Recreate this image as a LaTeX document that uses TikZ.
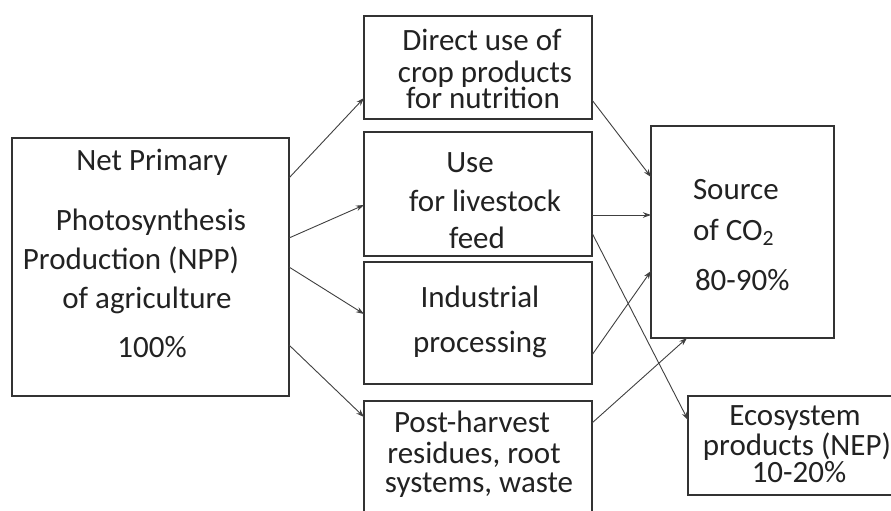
\documentclass[tikz,border=0pt]{standalone}
\usepackage{fontspec}
\setmainfont{Carlito}
\usetikzlibrary{arrows.meta}
\definecolor{boxc}{HTML}{333333}
\definecolor{arrc}{HTML}{404040}
\definecolor{txtc}{HTML}{222222}
\begin{document}
\begin{tikzpicture}[x=1pt,y=-1pt,
  box/.style={draw=boxc, line width=1.4pt, inner sep=0pt, outer sep=0pt},
  txt/.style={anchor=base, inner sep=0pt, outer sep=0pt, text=txtc, font=\fontsize{31}{31}\selectfont},
  txtl/.style={txt, anchor=base west},
  conn/.style={draw=arrc, line width=0.9pt, -{Stealth[length=8pt,width=5.5pt]}}]
\useasboundingbox (0,0) rectangle (891,511);
\fill[white] (0,0) rectangle (891,511);
\clip (0,0) rectangle (891,511);
% boxes
\node[box, minimum width=277pt, minimum height=258pt] (npp) at (150.5,267) {};
\node[box, minimum width=228pt, minimum height=103pt] (b1) at (478,67.5) {};
\node[box, minimum width=228pt, minimum height=124pt] (b2) at (478,194) {};
\node[box, minimum width=228pt, minimum height=122pt] (b3) at (478,323) {};
\node[box, minimum width=228pt, minimum height=138pt] (b4) at (478,470) {};
\node[box, minimum width=183pt, minimum height=212pt] (src) at (742.5,232) {};
\node[box, minimum width=232pt, minimum height=99pt] (eco) at (804,445.5) {};
% texts
\node[txt] (n1) at (152,170) {Net Primary};
\node[txt] (n2) at (151,230) {Photosynthesis};
\node[txt] (n3) at (131,269) {Production (NPP)};
\node[txt] (n4) at (147,308) {of agriculture};
\node[txt] (n5) at (152,357) {100\%};
\node[txt] (t1a) at (482,51) {Direct use of};
\node[txt] (t1b) at (485,82) {crop products};
\node[txt] (t1c) at (483,108) {for nutrition};
\node[txt] (t2a) at (470,172) {Use};
\node[txt] (t2b) at (485,211) {for livestock};
\node[txt] (t2c) at (477,248) {feed};
\node[txt] (t3a) at (480,307) {Industrial};
\node[txt] (t3b) at (480,352) {processing};
\node[txt] (t4a) at (472,432) {Post-harvest};
\node[txt] (t4b) at (474,463) {residues, root};
\node[txt] (t4c) at (479,492) {systems, waste};
\node[txtl] (s1) at (693,199) {Source};
\node[txtl] (s2) at (693,240) {of CO\textsubscript{2}};
\node[txtl] (s3) at (695,290) {80-90\%};
\node[txt] (e1) at (795,425) {Ecosystem};
\node[txt] (e2) at (797,455) {products (NEP)};
\node[txt] (e3) at (799,482) {10-20\%};
% connectors
\draw[conn] ([yshift=89pt]npp.east) -- ([yshift=-30.5pt]b1.west);
\draw[conn] ([yshift=29pt]npp.east) -- ([yshift=-11pt]b2.west);
\draw[conn] (npp.east) -- ([yshift=9pt]b3.west);
\draw[conn] ([yshift=-78pt]npp.east) -- ([yshift=53pt]b4.west);
\draw[conn] ([yshift=-32.5pt]b1.east) -- ([yshift=55pt]src.west);
\draw[conn] ([yshift=-21pt]b2.east) -- ([yshift=17pt]src.west);
\draw[conn] ([yshift=-39pt]b2.east) -- ([yshift=25.5pt]eco.west);
\draw[conn] ([yshift=-32pt]b3.east) -- ([yshift=-39pt]src.west);
\draw[conn] ([yshift=47pt]b4.east) -- ([xshift=-55.5pt]src.south);
\end{tikzpicture}
\end{document}
